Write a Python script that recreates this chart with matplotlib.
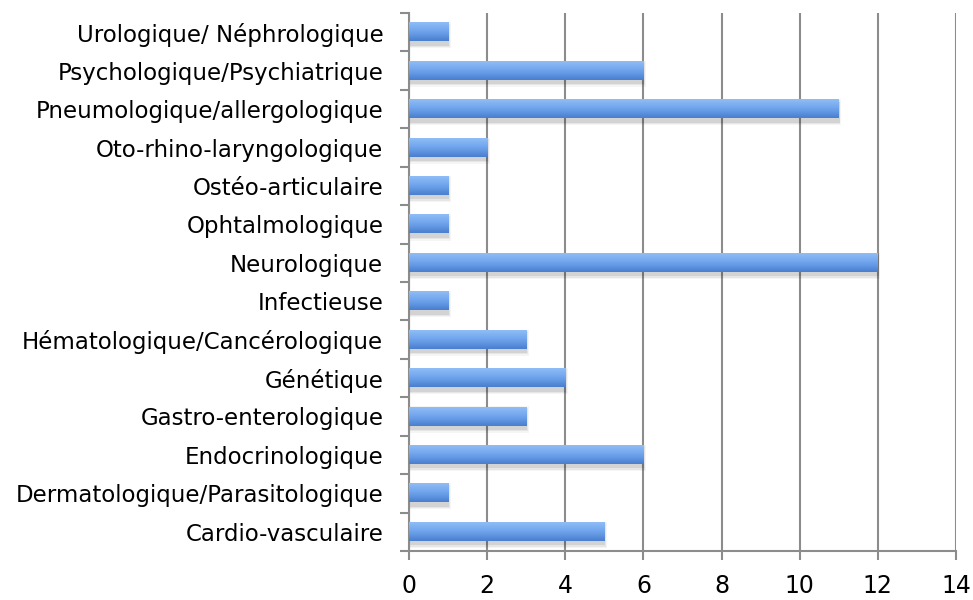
import numpy as np
import matplotlib.pyplot as plt
import matplotlib as mpl
from matplotlib.colors import LinearSegmentedColormap

fontsize = 16.5
mpl.rcParams['font.family'] = 'DejaVu Sans'

categories = ['Cardio-vasculaire', 'Dermatologique/Parasitologique', 'Endocrinologique',
              'Gastro-enterologique', 'Génétique', 'Hématologique/Cancérologique',
              'Infectieuse', 'Neurologique', 'Ophtalmologique', 'Ostéo-articulaire',
              'Oto-rhino-laryngologique', 'Pneumologique/allergologique',
              'Psychologique/Psychiatrique', 'Urologique/ Néphrologique']
values = [5, 1, 6, 3, 4, 3, 1, 12, 1, 1, 2, 11, 6, 1]
xticks = [0, 2, 4, 6, 8, 10, 12, 14]

fig = plt.figure(figsize=(9.73, 6), dpi=100)
ax = fig.add_axes([0.4204, 0.0817, 0.5621, 0.8966])

grey = '#8c8c8c'
ypos = np.arange(len(categories))
h = 0.47

# gradient bars with soft shadow
cmap = LinearSegmentedColormap.from_list('bar', ['#4a7fd0', '#6ea3ec', '#8fbdf6'])
grad = np.linspace(0, 1, 50).reshape(-1, 1)
for y, v in zip(ypos, values):
    for k, a in enumerate([0.04, 0.06, 0.08]):
        d = 0.07 * (3 - k)
        ax.barh(y - 0.08, v + d * 0.3, height=h + d, left=0.0, color='#000000',
                alpha=a, zorder=2, linewidth=0)
    ax.imshow(grad, cmap=cmap, aspect='auto', extent=(0, v, y - h / 2, y + h / 2),
              origin='lower', zorder=3, interpolation='bicubic')

ax.set_xlim(0, 14)
ax.set_ylim(-0.5, len(categories) - 0.5)
ax.set_xticks(xticks)
ax.set_xticklabels([str(x) for x in xticks], fontsize=fontsize + 0.5)
ax.xaxis.grid(True, color=grey, linewidth=1.5, zorder=1)
ax.set_axisbelow(True)

ax.set_yticks(np.arange(-0.5, len(categories), 1.0))
ax.set_yticklabels([])
ax.set_yticks(ypos, minor=True)
ax.set_yticklabels(categories, minor=True, fontsize=fontsize)
ax.tick_params(axis='y', which='minor', length=0, pad=18.5)
ax.tick_params(axis='y', which='major', length=6.5, width=1.5, color=grey)
ax.tick_params(axis='x', length=6.5, width=1.5, color=grey, pad=10)

for s in ['top', 'right']:
    ax.spines[s].set_visible(False)
for s in ['left', 'bottom']:
    ax.spines[s].set_color(grey)
    ax.spines[s].set_linewidth(1.5)

plt.savefig('out.png', dpi=100)
